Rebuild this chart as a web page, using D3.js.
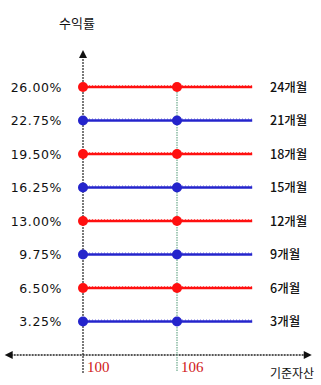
<!DOCTYPE html>
<html><head><meta charset="utf-8">
<script src="https://cdn.jsdelivr.net/npm/d3@7"></script>
<style>body{margin:0;background:#fff}</style>
</head><body>
<svg id="c" width="321" height="385"></svg>
<script>
const months = ["24개월","21개월","18개월","15개월","12개월","9개월","6개월","3개월"];
const rates = [26.00, 22.75, 19.50, 16.25, 13.00, 9.75, 6.50, 3.25];
const rateLabels = ["26.00%","22.75%","19.50%","16.25%","13.00%","9.75%","6.50%","3.25%"];
const seriesColors = ["#ff1010","#2424cc"];
const xTicks = [100, 106];
const lineEndX = 110.8;
const xAxisMin = 95, xAxisMax = 114.6, yAxisMax = 29.6;
const yTitle = "수익률", xTitle = "기준자산";

const svg = d3.select("#c");
const x = d3.scaleLinear().domain([100,106]).range([83,177]);
const y = d3.scaleLinear().domain([0,26]).range([355,87]);

// axes
svg.append("line").attr("x1",x(xAxisMin)+6).attr("x2",x(xAxisMax)-6).attr("y1",y(0)).attr("y2",y(0))
  .attr("stroke","#222").attr("stroke-width",1.5).attr("stroke-dasharray","2,1");
svg.append("line").attr("x1",x(100)).attr("x2",x(100)).attr("y1",y(yAxisMax)+6).attr("y2",y(0)+18)
  .attr("stroke","#222").attr("stroke-width",1.2).attr("stroke-dasharray","2,1");
// arrows
const arr = (pts)=>svg.append("path").attr("d",d3.line()(pts)+"Z").attr("fill","#111");
arr([[x(xAxisMin),y(0)],[x(xAxisMin)+8,y(0)-4],[x(xAxisMin)+8,y(0)+4]]);
arr([[x(xAxisMax),y(0)],[x(xAxisMax)-8,y(0)-4],[x(xAxisMax)-8,y(0)+4]]);
arr([[x(100),y(yAxisMax)],[x(100)-4,y(yAxisMax)+8],[x(100)+4,y(yAxisMax)+8]]);

// green vertical
svg.append("line").attr("x1",x(106)).attr("x2",x(106)).attr("y1",y(rates[0])).attr("y2",y(0)+16)
  .attr("stroke","#6aa88a").attr("stroke-width",1.2).attr("stroke-dasharray","1.5,1");

// series lines
rates.forEach((r,i)=>{
  const col = seriesColors[i%2];
  const g = svg.append("g");
  g.append("line").attr("x1",x(100)).attr("x2",x(lineEndX)).attr("y1",y(r)).attr("y2",y(r))
    .attr("stroke",col).attr("stroke-width",2.5);
  g.append("line").attr("x1",x(100)).attr("x2",x(lineEndX)).attr("y1",y(r)-1.5).attr("y2",y(r)-1.5)
    .attr("stroke",col).attr("stroke-width",1).attr("stroke-dasharray","1,2").attr("opacity",0.6);
  [100,106].forEach(v=>g.append("circle").attr("cx",x(v)).attr("cy",y(r)).attr("r",5).attr("fill",col));
  svg.append("text").attr("x",62).attr("y",y(r)+4.5).attr("text-anchor","end")
    .attr("font-family","DejaVu Sans").attr("font-size",12.5).attr("letter-spacing",0.6)
    .attr("fill","#111").text(rateLabels[i]);
  svg.append("text").attr("x",270).attr("y",y(r)+4.5)
    .attr("font-family","Noto Sans CJK KR").attr("font-size",12.5).attr("font-weight",500)
    .attr("fill","#111").text(months[i]);
});

// x tick labels
xTicks.forEach(v=>svg.append("text").attr("x",x(v)+4).attr("y",y(0)+17)
  .attr("font-family","Liberation Serif").attr("font-size",15).attr("fill","#d01818").text(v));

svg.append("text").attr("x",77).attr("y",28).attr("text-anchor","middle")
  .attr("font-family","Noto Sans CJK KR").attr("font-size",13).attr("fill","#111").text(yTitle);
svg.append("text").attr("x",270).attr("y",378)
  .attr("font-family","Noto Sans CJK KR").attr("font-size",12).attr("fill","#111").text(xTitle);
</script>
</body></html>
